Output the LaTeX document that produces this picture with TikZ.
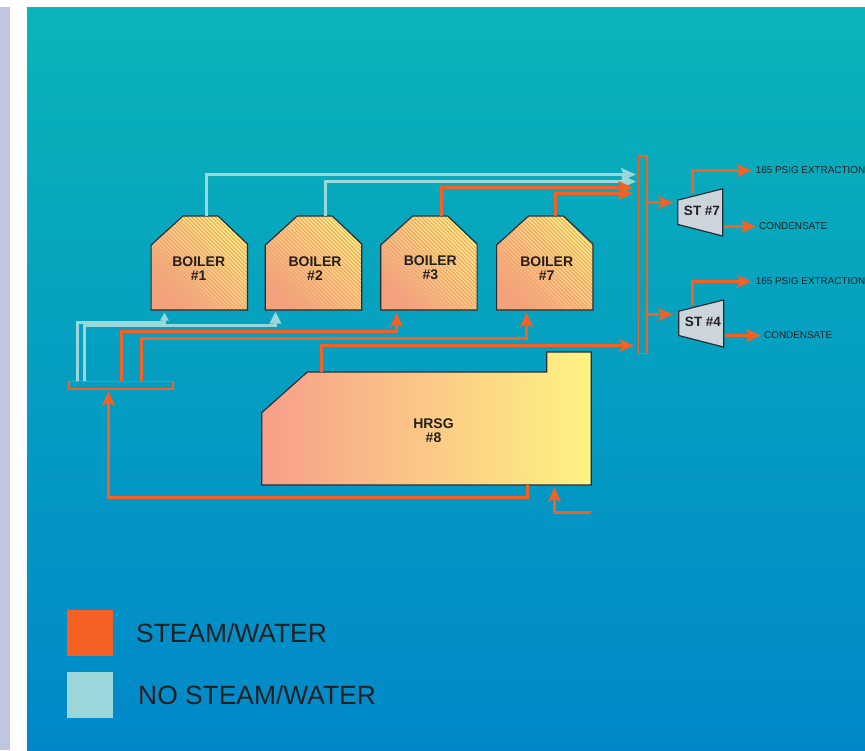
\documentclass[tikz,border=0pt]{standalone}
\usepackage{fontspec}
\setmainfont{Liberation Sans}
\usetikzlibrary{arrows.meta,patterns.meta,positioning}
\definecolor{bgtop}{RGB}{10,180,184}
\definecolor{bgmid}{RGB}{1,160,196}
\definecolor{bgbot}{RGB}{0,136,202}
\definecolor{stripc}{RGB}{192,198,224}
\definecolor{steamc}{RGB}{245,96,36}
\definecolor{nosteamc}{RGB}{155,215,218}
\definecolor{hotc}{RGB}{247,158,138}
\definecolor{warmc}{RGB}{255,243,130}
\definecolor{hatchc}{RGB}{238,165,105}
\definecolor{edgec}{RGB}{35,45,50}
\definecolor{stc}{RGB}{205,213,220}
\definecolor{txtc}{RGB}{35,31,32}
\newcommand{\boileroutline}{(-48.2,47) -- (-48.2,-18) -- (-16.3,-47) -- (18.7,-47) -- (48.2,-19) -- (48.2,47) -- cycle}
\newcommand{\stoutline}{(-22.5,-12.3) -- (22.5,-23.6) -- (22.5,23.6) -- (-22.5,12) -- cycle}
\tikzset{
  blank/.style={inner sep=0pt, outer sep=0pt},
  boiler/.style={draw=edgec, line width=1.2pt,
    preaction={bottom color=hotc, top color=warmc, shading angle=-45},
    preaction={pattern={Lines[angle=-45,distance=2.8pt,line width=1pt]}, pattern color=hatchc, fill opacity=0.55}},
  bold14/.style={font=\fontsize{14}{14}\selectfont\bfseries, text=txtc, align=center, inner sep=0pt},
  small10/.style={font=\fontsize{9.9}{10}\selectfont, text=txtc, anchor=west, inner sep=0pt},
  big26/.style={font=\fontsize{26.4}{26}\selectfont, text=txtc, inner sep=0pt},
  hdr/.style={draw=steamc, line width=1.5pt, blank},
  steam/.style={draw=steamc, line width=3.5pt, -{Stealth[length=15pt,width=13pt,inset=4pt]}},
  nosteam/.style={draw=nosteamc, line width=3.5pt, -{Stealth[length=15pt,width=13pt,inset=3pt]}},
  legendbox/.style={minimum size=46pt, blank}
}

\begin{document}
\begin{tikzpicture}[x=1pt, y=-1pt]
    \useasboundingbox (0,0) rectangle (865,750);
    \fill[white] (0,0) rectangle (865,750);
    \fill[stripc] (0,7) rectangle (10,750);
    \shade[top color=bgtop, middle color=bgmid, bottom color=bgbot] (27,7) rectangle (865,750);
    % boilers
    \foreach \i/\cx/\tx/\ty in {1/199.3/198.7/269, 2/313.5/315/269, 3/428.9/430.3/268, 7/544.8/546.7/269} {
      \node[blank, minimum width=96.4pt, minimum height=94pt] (boiler\i) at (\cx,263) {};
      \draw[boiler, shift={(\cx,263)}] \boileroutline;
      \node[bold14] (boiler\i txt) at (\tx,\ty) {BOILER\\\#\i};
    }
    % hrsg
    \node[blank, minimum width=329.6pt, minimum height=133pt] (hrsg) at (426.5,418.5) {};
    \draw[draw=edgec, line width=1.2pt, left color=hotc, right color=warmc] (261.7,412.7) -- (307.3,372) -- (546.7,372) -- (546.7,352) -- (591.3,352) -- (591.3,485) -- (261.7,485) -- cycle;
    \node[bold14] (hrsgtxt) at (433.5,431) {HRSG\\\#8};
    % headers
    \node[hdr, minimum width=104pt, minimum height=7.5pt] (feedhdr) at (121,385) {};
    \node[hdr, minimum width=8.5pt, minimum height=197.5pt] (mainhdr) at (642.75,254.75) {};
    % turbines
    \foreach \i/\cx/\cy/\tx/\ty/\iny/\ey/\eyy/\cdx/\cdy in {7/700.2/212.4/702/211/202.5/170.5/193/759/226.5, 4/701.2/323.5/703/322/314.5/281.5/305/764/335.5} {
      \node[blank, minimum width=45pt, minimum height=47.2pt] (st\i) at (\cx,\cy) {};
      \draw[draw=edgec, line width=1.2pt, fill=stc, shift={(\cx,\cy)}] \stoutline;
      \node[bold14, font=\fontsize{13.5}{14}\selectfont\bfseries] (st\i txt) at (\tx,\ty) {ST \#\i};
      \node[small10] (ext\i) at (755.6,\ey) {165 PSIG EXTRACTION};
      \node[small10] (cond\i) at (\cdx,\cdy) {CONDENSATE};
      \coordinate (stin\i) at (673,\iny);
      \coordinate (extout\i) at (692.5,\eyy);
      \draw[steam] (mainhdr.east |- stin\i) -- (stin\i);
      \draw[steam] (extout\i) |- ([xshift=-4pt]ext\i.west);
      \draw[steam] ([xshift=1.6pt]st\i.east |- cond\i.west) -- ([xshift=-3pt]cond\i.west);
    }
    % header inlets
    \coordinate (in1) at (636,174.5);
    \coordinate (in2) at (636,181.5);
    \coordinate (in3) at (633,187.5);
    \coordinate (in7) at (633,193.5);
    \coordinate (in8) at (634,345.5);
    \draw[nosteam] ([xshift=7.2pt]boiler1.north) |- (in1);
    \draw[nosteam] ([xshift=12pt]boiler2.north) |- (in2);
    \draw[steam] ([xshift=12.6pt]boiler3.north) |- (in3);
    \draw[steam] ([xshift=10.7pt]boiler7.north) |- (in7);
    % boiler feeds
    \coordinate (feed1) at (164.5,312.5);
    \coordinate (feed2) at (275.5,311.5);
    \coordinate (feed3) at (396.5,312.5);
    \coordinate (feed7) at (526.5,312.5);
    \draw[nosteam, -{Stealth[length=8pt,width=8pt,inset=0pt]}] ([xshift=-43.5pt]feedhdr.north) |- ([yshift=-10pt]feed1) -- (feed1);
    \draw[nosteam, -{Stealth[length=12pt,width=11pt,inset=0pt]}] ([xshift=-36.5pt]feedhdr.north) |- ([yshift=-14pt]feed2) -- (feed2);
    \draw[steam] ([xshift=0.5pt]feedhdr.north) |- ([yshift=-19pt]feed3) -- (feed3);
    \draw[steam] ([xshift=20.5pt]feedhdr.north) |- ([yshift=-26pt]feed7) -- (feed7);
    \draw[steam] ([xshift=-105pt,yshift=-20pt]hrsg.north) |- (in8);
    % hrsg water
    \coordinate (feedin) at (591,512.5);
    \draw[steam] ([xshift=101pt]hrsg.south) -- ++(0,12.5) -| ([xshift=-12.5pt,yshift=-2.3pt]feedhdr.south);
    \draw[steam] (feedin) -| ([xshift=-36.8pt,yshift=-2.3pt]hrsg.south east);
    % legend
    \node[legendbox, fill=steamc] (legsteam) at (90,632.7) {};
    \node[legendbox, fill=nosteamc] (legnosteam) at (90,695) {};
    \node[big26, right=23pt of legsteam] (legsteamtxt) {STEAM/WATER};
    \node[big26, right=25pt of legnosteam] (legnosteamtxt) {NO STEAM/WATER};
  \end{tikzpicture}
\end{document}
